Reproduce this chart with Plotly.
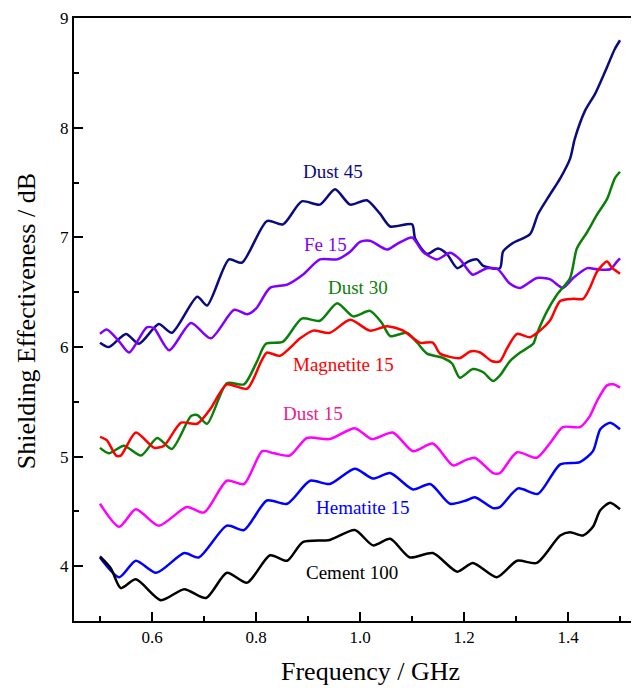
import plotly.graph_objects as go

# ---- data (frequency in GHz, shielding effectiveness in dB) ----
dust45_f = [0.5, 0.517, 0.55, 0.575, 0.613, 0.638, 0.687, 0.706, 0.748, 0.773, 0.821, 0.852, 0.888, 0.923,
            0.952, 0.981, 1.013, 1.038, 1.058, 1.1, 1.106, 1.129, 1.15, 1.167, 1.187, 1.208, 1.225, 1.237,
            1.269, 1.275, 1.294, 1.327, 1.342, 1.365, 1.385, 1.404, 1.413, 1.433, 1.452, 1.471, 1.49, 1.5]
dust45_v = [6.04, 6.0, 6.12, 6.03, 6.21, 6.13, 6.46, 6.38, 6.8, 6.77, 7.15, 7.12, 7.33, 7.3,
            7.44, 7.3, 7.34, 7.22, 7.1, 7.12, 6.99, 6.85, 6.9, 6.85, 6.72, 6.78, 6.8, 6.74,
            6.72, 6.87, 6.95, 7.03, 7.21, 7.39, 7.54, 7.72, 7.9, 8.16, 8.31, 8.51, 8.72, 8.8]

fe15_f = [0.5, 0.513, 0.537, 0.556, 0.59, 0.604, 0.633, 0.675, 0.713, 0.758, 0.783, 0.8, 0.827, 0.86,
          0.89, 0.923, 0.956, 0.981, 1.0, 1.019, 1.052, 1.071, 1.1, 1.121, 1.148, 1.173, 1.192, 1.208,
          1.217, 1.244, 1.265, 1.288, 1.308, 1.34, 1.365, 1.39, 1.41, 1.437, 1.456, 1.481, 1.494, 1.5]
fe15_v = [6.12, 6.16, 6.05, 5.95, 6.18, 6.17, 5.97, 6.22, 6.08, 6.34, 6.3, 6.35, 6.54, 6.57,
          6.66, 6.8, 6.8, 6.87, 6.96, 6.97, 6.89, 6.94, 7.0, 6.87, 6.8, 6.86, 6.8, 6.7,
          6.66, 6.72, 6.71, 6.58, 6.54, 6.63, 6.62, 6.54, 6.63, 6.72, 6.71, 6.71, 6.78, 6.81]

dust30_f = [0.5, 0.517, 0.546, 0.579, 0.61, 0.638, 0.675, 0.687, 0.706, 0.744, 0.777, 0.802, 0.819, 0.852,
            0.888, 0.923, 0.956, 0.987, 1.019, 1.042, 1.058, 1.09, 1.11, 1.129, 1.16, 1.177, 1.192, 1.217,
            1.237, 1.256, 1.269, 1.288, 1.308, 1.333, 1.34, 1.36, 1.379, 1.404, 1.417, 1.437, 1.456, 1.475,
            1.49, 1.5]
dust30_v = [5.08, 5.03, 5.1, 5.01, 5.17, 5.07, 5.37, 5.38, 5.3, 5.67, 5.66, 5.87, 6.03, 6.05,
            6.26, 6.24, 6.4, 6.28, 6.33, 6.22, 6.1, 6.13, 6.04, 5.94, 5.9, 5.85, 5.72, 5.8,
            5.77, 5.69, 5.74, 5.87, 5.95, 6.03, 6.12, 6.33, 6.48, 6.63, 6.9, 7.05, 7.21, 7.35,
            7.54, 7.6]

magn15_f = [0.5, 0.513, 0.531, 0.54, 0.569, 0.604, 0.623, 0.656, 0.687, 0.713, 0.729, 0.744, 0.783, 0.81,
            0.821, 0.846, 0.885, 0.91, 0.942, 0.981, 1.019, 1.052, 1.083, 1.115, 1.14, 1.154, 1.192, 1.212,
            1.231, 1.254, 1.269, 1.283, 1.302, 1.327, 1.346, 1.365, 1.385, 1.41, 1.429, 1.442, 1.456, 1.475,
            1.485, 1.494, 1.5]
magn15_v = [5.18, 5.15, 5.01, 5.01, 5.22, 5.08, 5.1, 5.31, 5.3, 5.44, 5.57, 5.66, 5.62, 5.87,
            5.95, 5.92, 6.08, 6.15, 6.13, 6.25, 6.15, 6.19, 6.15, 6.04, 6.04, 5.94, 5.9, 5.96,
            5.95, 5.87, 5.87, 5.99, 6.12, 6.09, 6.15, 6.24, 6.42, 6.44, 6.44, 6.54, 6.69, 6.78,
            6.72, 6.69, 6.67]

dust15_f = [0.5, 0.537, 0.569, 0.613, 0.667, 0.7, 0.744, 0.777, 0.812, 0.835, 0.865, 0.898, 0.942, 0.99,
            1.023, 1.063, 1.102, 1.14, 1.179, 1.204, 1.221, 1.256, 1.269, 1.302, 1.34, 1.365, 1.39, 1.423,
            1.442, 1.456, 1.475, 1.487, 1.5]
dust15_v = [4.57, 4.36, 4.52, 4.37, 4.54, 4.49, 4.78, 4.75, 5.05, 5.03, 5.01, 5.17, 5.16, 5.26,
            5.16, 5.22, 5.05, 5.12, 4.92, 4.97, 4.99, 4.85, 4.85, 5.04, 4.99, 5.12, 5.27, 5.27,
            5.37, 5.51, 5.65, 5.66, 5.63]

hem15_f = [0.5, 0.537, 0.569, 0.608, 0.662, 0.69, 0.744, 0.777, 0.821, 0.86, 0.904, 0.942, 0.99, 1.025,
           1.058, 1.102, 1.135, 1.173, 1.204, 1.221, 1.256, 1.269, 1.304, 1.342, 1.385, 1.423, 1.448, 1.462,
           1.481, 1.5]
hem15_v = [4.08, 3.9, 4.05, 3.94, 4.12, 4.08, 4.37, 4.33, 4.6, 4.57, 4.78, 4.75, 4.89, 4.8,
           4.85, 4.7, 4.75, 4.57, 4.6, 4.63, 4.53, 4.54, 4.71, 4.66, 4.93, 4.95, 5.05, 5.25,
           5.31, 5.25]

cem100_f = [0.5, 0.521, 0.54, 0.569, 0.617, 0.662, 0.704, 0.744, 0.783, 0.827, 0.86, 0.89, 0.942, 0.99,
            1.025, 1.058, 1.096, 1.14, 1.187, 1.217, 1.263, 1.302, 1.34, 1.385, 1.404, 1.429, 1.448, 1.462,
            1.481, 1.5]
cem100_v = [4.09, 3.98, 3.8, 3.88, 3.69, 3.79, 3.71, 3.94, 3.85, 4.1, 4.05, 4.22, 4.24, 4.33,
            4.19, 4.25, 4.08, 4.12, 3.95, 4.03, 3.9, 4.05, 4.03, 4.28, 4.31, 4.28, 4.36, 4.51,
            4.58, 4.52]

series_names = ["Dust 45", "Fe 15", "Dust 30", "Magnetite 15", "Dust 15", "Hematite 15", "Cement 100"]
line_colors = ["#0b0b80", "#8000ff", "#0a800a", "#ff0000", "#ff00ff", "#0000ff", "#000000"]
label_colors = ["#0b0b80", "#8000ff", "#0a800a", "#ff0000", "#e8208a", "#0000ff", "#000000"]
label_x = [0.948, 0.933, 0.996, 0.969, 0.91, 1.004, 0.985]
label_y = [7.6, 6.94, 6.54, 5.84, 5.39, 4.54, 3.94]

xs = [dust45_f, fe15_f, dust30_f, magn15_f, dust15_f, hem15_f, cem100_f]
ys = [dust45_v, fe15_v, dust30_v, magn15_v, dust15_v, hem15_v, cem100_v]

FONT = "Liberation Serif, Times New Roman, serif"

fig = go.Figure()
for name, x, y, c in zip(series_names, xs, ys, line_colors):
    fig.add_trace(go.Scatter(x=x, y=y, mode="lines", name=name,
                             line=dict(color=c, width=2.5, shape="spline", smoothing=0.7)))

for name, lx, ly, c in zip(series_names, label_x, label_y, label_colors):
    fig.add_annotation(x=lx, y=ly, text=name, showarrow=False,
                       font=dict(family=FONT, size=19, color=c))

# axis titles placed as paper annotations
fig.add_annotation(xref="paper", yref="paper", x=0.524, y=-0.084, text="Frequency / GHz",
                   showarrow=False, xanchor="center", yanchor="middle",
                   font=dict(family=FONT, size=26, color="black"))
fig.add_annotation(xref="paper", yref="paper", x=-0.085, y=0.497, text="Shielding Effectiveness / dB",
                   showarrow=False, textangle=-90, xanchor="center", yanchor="middle",
                   font=dict(family=FONT, size=26, color="black"))

# the page body has an 8px margin, so the figure is offset by (8, 8)
fig.update_layout(
    width=631, height=680,
    margin=dict(l=66, r=0, t=10, b=67, autoexpand=False),
    paper_bgcolor="white", plot_bgcolor="white",
    showlegend=False,
    font=dict(family=FONT, color="black"),
)
fig.update_xaxes(
    range=[0.45, 1.5365], showgrid=False, zeroline=False, automargin=False,
    showline=True, linecolor="black", linewidth=2, mirror=True,
    ticks="inside", ticklen=9, tickwidth=1.5, tickcolor="black",
    tick0=0, dtick=0.2, tickformat=".1f",
    minor=dict(ticks="inside", ticklen=5, tickwidth=1.5, tickcolor="black", dtick=0.1, tick0=0),
    tickfont=dict(family=FONT, size=17, color="black"),
)
fig.update_yaxes(
    range=[3.5, 9.003], showgrid=False, zeroline=False, automargin=False,
    showline=True, linecolor="black", linewidth=2, mirror=False,
    ticks="inside", ticklen=9, tickwidth=1.5, tickcolor="black",
    tick0=0, dtick=1,
    minor=dict(ticks="inside", ticklen=5, tickwidth=1.5, tickcolor="black", dtick=0.5, tick0=0),
    tickfont=dict(family=FONT, size=17, color="black"),
)

fig.write_html("out.html")
